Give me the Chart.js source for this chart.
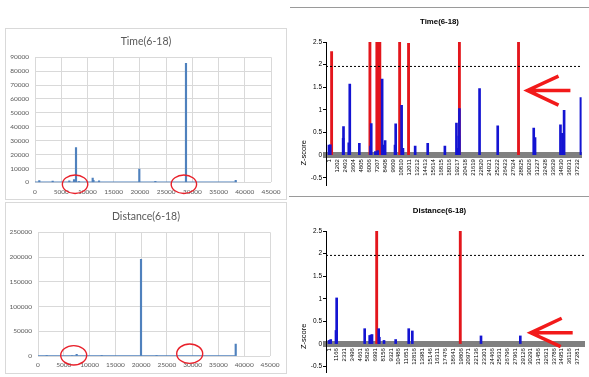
<!DOCTYPE html>
<html><head><meta charset="utf-8">
<script src="https://cdn.jsdelivr.net/npm/chart.js@4"></script>
<style>
html,body{margin:0;padding:0;background:#fff;}
body{width:589px;height:377px;position:relative;overflow:hidden;}
.frame{position:absolute;box-sizing:border-box;border:1px solid #d9d9d9;}
.hl{position:absolute;height:1px;background:#9a9a9a;}
canvas{position:absolute;}
</style></head><body>
<div class="frame" style="left:5px;top:28px;width:282px;height:172px"></div>
<div class="frame" style="left:5px;top:202px;width:282px;height:172px"></div>
<div class="hl" style="left:290px;top:7px;width:299px"></div>
<div class="hl" style="left:289px;top:196px;width:300px"></div>
<canvas id="c1" width="282" height="172" style="left:5px;top:28px"></canvas>
<canvas id="c2" width="282" height="172" style="left:5px;top:202px"></canvas>
<canvas id="c3" width="299" height="182" style="left:290px;top:8px"></canvas>
<canvas id="c4" width="299" height="180" style="left:290px;top:197px"></canvas>
<script>
// ---------- data ----------
const leftXTicks = [0, 5000, 10000, 15000, 20000, 25000, 30000, 35000, 40000, 45000];
const timeYTicks = [0, 10000, 20000, 30000, 40000, 50000, 60000, 70000, 80000, 90000];
const distYTicks = [0, 50000, 100000, 150000, 200000, 250000];

const timeSpikeX = [820, 3370, 6540, 7440, 7820, 8390, 11000, 11150, 12210, 19890, 22950, 28790, 38270];
const timeSpikeY = [1200, 800, 1000, 1900, 25000, 600, 3100, 1500, 1000, 9600, 700, 85600, 1500];
const timeBaseX = [0, 38500];

const distSpikeX = [1690, 6600, 7500, 12350, 19980, 23000, 38350];
const distSpikeY = [1500, 1000, 3400, 1200, 195400, 800, 24300];
const distBaseX = [0, 38500];

const timeZTicks = [1, 1202, 2403, 3604, 4805, 6006, 7207, 8408, 9609, 10810, 12011, 13212, 14413, 15614, 16815, 18016, 19217, 20418, 21619, 22820, 24021, 25222, 26423, 27624, 28825, 30026, 31227, 32428, 33629, 34830, 36031, 37232];
const distZTicks = [1, 1166, 2331, 3496, 4661, 5826, 6991, 8156, 9321, 10486, 11651, 12816, 13981, 15146, 16311, 17476, 18641, 19806, 20971, 22136, 23301, 24466, 25631, 26796, 27961, 29126, 30291, 31456, 32621, 33786, 34951, 36116, 37281];
const zYTicks = [-0.5, 0, 0.5, 1, 1.5, 2, 2.5];
const zThreshold = 1.96;

const timeZBlueX = [1, 200, 2125, 2176, 2966, 3115, 4548, 6228, 6327, 6950, 7300, 7958, 8205, 8403, 9886, 9985, 10874, 11072, 12901, 14780, 17349, 19080, 19327, 19440, 19524, 22539, 25258, 30646, 30843, 34649, 34946, 35192, 37713];
const timeZBlueY = [0.22, 0.23, 0.37, 0.63, 0.27, 1.57, 0.26, 0.2, 0.70, 0.08, 0.1, 1.68, 0.22, 0.32, 0.22, 0.69, 1.1, 0.15, 0.2, 0.26, 0.2, 0.71, 0.15, 0.42, 1.03, 1.47, 0.65, 0.6, 0.39, 0.67, 0.48, 0.99, 1.27];
const timeZRedX = [397, 6129, 7167, 7463, 7612, 10577, 11912, 19524, 28371];
const timeZRedY = [2.29, 3, 3, 3, 3, 3, 2.47, 3, 3];

const distZBlueX = [1, 260, 1050, 1150, 5360, 6110, 6310, 6460, 7460, 7560, 8260, 10010, 11970, 12510, 22820, 28720];
const distZBlueY = [0.08, 0.1, 0.3, 1.02, 0.34, 0.19, 0.2, 0.21, 0.34, 0.15, 0.08, 0.1, 0.34, 0.29, 0.18, 0.18];
const distZRedX = [7160, 19710];
const distZRedY = [3, 3];

// ---------- styles ----------
const FONT_L = 'Lato, "Open Sans", sans-serif';
const FONT_R = '"Liberation Sans", Arial, sans-serif';
const BLUE_L = '#4f81bd';
const BLUE_Z = '#1414d2';
const RED_Z = '#e3161c';

function xy(xs, ys) { return xs.map((x, i) => ({ x: x, y: ys[i] })); }
function setTicks(arr) { return s => { s.ticks = arr.map(v => ({ value: v })); }; }

const annotate = {
  id: 'annotate',
  afterDraw(chart, args, o) {
    const ctx = chart.ctx, sx = chart.scales.x, sy = chart.scales.y;
    const P = p => [sx.getPixelForValue(p[0]), sy.getPixelForValue(p[1])];
    ctx.save();
    (o.ellipses || []).forEach(e => {
      const c = P([e.x, e.y]);
      ctx.beginPath();
      ctx.ellipse(c[0], c[1], e.rx, e.ry, 0, 0, 2 * Math.PI);
      ctx.lineWidth = 1.4; ctx.strokeStyle = '#e8202a'; ctx.stroke();
    });
    (o.arrows || []).forEach(a => {
      const t = P(a.tip), u = P(a.up), l = P(a.low), s = P(a.tail);
      ctx.beginPath();
      ctx.moveTo(u[0], u[1]); ctx.lineTo(t[0], t[1]); ctx.lineTo(l[0], l[1]);
      ctx.moveTo(t[0] + 2, t[1]); ctx.lineTo(s[0], s[1]);
      ctx.lineWidth = 3.5; ctx.strokeStyle = '#f21a1a'; ctx.lineJoin = 'miter'; ctx.lineCap = 'butt'; ctx.stroke();
    });
    if (o.axisLabel) {
      ctx.translate(chart.chartArea.left + o.axisLabel.dx, sy.getPixelForValue(o.axisLabel.y));
      ctx.rotate(-Math.PI / 2);
      ctx.font = '7.5px ' + FONT_R; ctx.fillStyle = '#000';
      ctx.textAlign = 'center'; ctx.textBaseline = 'middle';
      ctx.fillText(o.axisLabel.text, 0, 0);
    }
    ctx.restore();
  }
};

function leftChart(id, o) {
  return new Chart(document.getElementById(id), {
    type: 'bar',
    data: { datasets: [
      { type: 'bar', data: xy(o.sx, o.sy), backgroundColor: BLUE_L, barThickness: 1.5, grouped: false },
      { type: 'line', data: o.baseX.map(x => ({ x: x, y: 0 })), borderColor: BLUE_L, borderWidth: 1.5, pointRadius: 0 }
    ]},
    options: {
      responsive: false, animation: false, events: [],
      layout: { padding: { left: 2, right: 2, top: 0, bottom: 0 } },
      plugins: {
        legend: { display: false }, tooltip: { enabled: false },
        title: { display: true, text: o.title, color: '#595959',
          font: { family: FONT_L, size: 10.5, weight: 'normal', lineHeight: 1 },
          padding: { top: o.tTop, bottom: o.tBot } },
        annotate: { ellipses: o.ellipses }
      },
      scales: {
        x: { type: 'linear', min: 0, max: 45000, offset: false,
          afterBuildTicks: setTicks(leftXTicks), afterFit: s => { s.height = o.xH; },
          grid: { color: '#d9d9d9', drawTicks: false, offset: false }, border: { display: false },
          ticks: { font: { family: FONT_L, size: 6.5 }, color: '#595959', padding: o.xPad,
            maxRotation: 0, autoSkip: false, callback: v => String(v) } },
        y: { type: 'linear', min: 0, max: o.yMax,
          afterBuildTicks: setTicks(o.yTicks), afterFit: s => { s.width = o.yW; },
          grid: { color: '#d9d9d9', drawTicks: false }, border: { display: false },
          ticks: { font: { family: FONT_L, size: 6.5 }, color: '#595959', padding: 6, callback: v => String(v) } },
        yR: { type: 'linear', position: 'right', display: true, min: 0, max: o.yMax,
          afterFit: s => { s.width = o.rW; },
          grid: { display: false, drawTicks: false }, border: { display: false }, ticks: { display: false } }
      }
    },
    plugins: [annotate]
  });
}

function zChart(id, o) {
  return new Chart(document.getElementById(id), {
    type: 'bar',
    data: { datasets: [
      { type: 'line', data: [{ x: o.xMin, y: zThreshold }, { x: o.xMax, y: zThreshold }],
        borderColor: '#000', borderWidth: 1, borderDash: [2, 2], pointRadius: 0 },
      { type: 'bar', data: xy(o.bx, o.by), backgroundColor: BLUE_Z, barThickness: 2, grouped: false, clip: 0 },
      { type: 'bar', data: xy(o.rx, o.ry), backgroundColor: RED_Z, barThickness: 2.2, grouped: false, clip: 0 }
    ]},
    options: {
      responsive: false, animation: false, events: [],
      layout: { padding: { left: 5, right: 5, top: 0, bottom: 0 } },
      plugins: {
        legend: { display: false }, tooltip: { enabled: false },
        title: { display: true, text: o.title, color: '#000',
          font: { family: FONT_R, size: 7.8, weight: 'bold', lineHeight: 1 },
          padding: { top: 10, bottom: o.tBot } },
        annotate: { arrows: [o.arrow], axisLabel: { text: 'Z-score', dx: -22, y: o.zLabelY } }
      },
      scales: {
        x: { type: 'linear', position: { y: 0 }, min: o.xMin, max: o.xMax, offset: false, z: 1,
          afterBuildTicks: setTicks(o.xTicks), afterFit: s => { s.height = 0; },
          grid: { display: false, drawTicks: false, offset: false },
          border: { display: true, color: '#808080', width: 6 },
          ticks: { font: { family: FONT_R, size: 6 }, color: '#000', padding: 4,
            minRotation: 90, maxRotation: 90, autoSkip: false, callback: v => String(v) } },
        y: { type: 'linear', min: o.yMin, max: 2.5,
          afterBuildTicks: setTicks(zYTicks), afterFit: s => { s.width = 31; },
          grid: { drawOnChartArea: false, drawTicks: true, tickLength: 3, color: '#000' },
          border: { display: true, color: '#000', width: 1 },
          ticks: { font: { family: FONT_R, size: 6.5 }, color: '#000', padding: 1, callback: v => String(v) } }
      }
    },
    plugins: [annotate]
  });
}

leftChart('c1', { title: 'Time(6-18)', sx: timeSpikeX, sy: timeSpikeY, baseX: timeBaseX,
  yTicks: timeYTicks, yMax: 90000, yW: 28, rW: 14, xH: 17.7, xPad: 5.8, tTop: 8.75, tBot: 10.05,
  ellipses: [{ x: 7640, y: -1400, rx: 12.7, ry: 9.2 }, { x: 28390, y: -1400, rx: 12.7, ry: 9.2 }] });

leftChart('c2', { title: 'Distance(6-18)', sx: distSpikeX, sy: distSpikeY, baseX: distBaseX,
  yTicks: distYTicks, yMax: 250000, yW: 31, rW: 15, xH: 18, xPad: 5.1, tTop: 9.75, tBot: 10.05,
  ellipses: [{ x: 6925, y: 1400, rx: 13, ry: 9.7 }, { x: 29425, y: 4650, rx: 13, ry: 9.7 }] });

zChart('c3', { title: 'Time(6-18)', bx: timeZBlueX, by: timeZBlueY, rx: timeZRedX, ry: timeZRedY,
  xTicks: timeZTicks, xMin: -444, xMax: 37812, yMin: -0.662, tBot: 16.2, zLabelY: 0.05,
  arrow: { tip: [29702, 1.43], up: [34358, 1.746], low: [34358, 1.105], tail: [36137, 1.43] } });

zChart('c4', { title: 'Distance(6-18)', bx: distZBlueX, by: distZBlueY, rx: distZRedX, ry: distZRedY,
  xTicks: distZTicks, xMin: -449, xMax: 38283, yMin: -0.62, tBot: 16.2, zLabelY: 0.17,
  arrow: { tip: [30282, 0.249], up: [34936, 0.57], low: [34786, -0.058], tail: [36587, 0.249] } });
</script>
</body></html>
